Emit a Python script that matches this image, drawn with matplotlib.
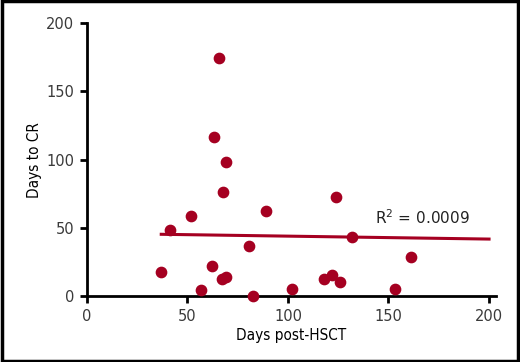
import matplotlib
matplotlib.use("Agg")
import matplotlib.pyplot as plt
from matplotlib.patches import Rectangle

# values
days_post_hsct = [36.8, 41.6, 52.0, 57.0, 62.0, 63.0, 65.7, 67.0, 67.8, 69.0, 69.0,
                  80.8, 82.7, 88.9, 101.8, 118.0, 121.7, 124.0, 125.9, 132.0, 153.0, 161.0]
days_to_cr = [17.4, 48.4, 58.6, 4.4, 22.2, 116.5, 174.6, 12.5, 76.4, 14.2, 98.2,
              36.4, 0.2, 62.3, 5.1, 12.5, 15.4, 72.3, 10.3, 43.4, 5.1, 28.6]
fit_x = [37, 200]
fit_y = [45.3, 41.8]
r2_label = r"R$^2$ = 0.0009"

red = "#a50021"
plt.rcParams["font.family"] = ["DejaVu Sans"]

fig = plt.figure(figsize=(5.2, 3.62), dpi=100)
ax = fig.add_axes([0.167, 0.182, 0.787, 0.754])

ax.scatter(days_post_hsct, days_to_cr, s=55, color=red, zorder=3, clip_on=False)
ax.plot(fit_x, fit_y, color=red, lw=2.2, zorder=2)
ax.text(143.3, 52.5, r2_label, fontsize=11, color="#222222")

ax.set_xlim(0, 203.5)
ax.set_ylim(0, 200)
ax.set_xticks([0, 50, 100, 150, 200])
ax.set_yticks([0, 50, 100, 150, 200])
for s in ["top", "right"]:
    ax.spines[s].set_visible(False)
for s in ["left", "bottom"]:
    ax.spines[s].set_linewidth(2)
ax.tick_params(width=2, length=5, labelsize=10.5, labelcolor="#3a3a3a", pad=4)

ax.set_xlabel("Days post-HSCT", fontsize=11, stretch="condensed", labelpad=3)
ax.set_ylabel("Days to CR", fontsize=11, stretch="condensed", labelpad=3)

# black frame round the figure
fig.patches.append(Rectangle((0.003, 0.004), 0.994, 0.992, transform=fig.transFigure,
                             fill=False, edgecolor="black", lw=2.5))

fig.savefig("out.png", dpi=100)
